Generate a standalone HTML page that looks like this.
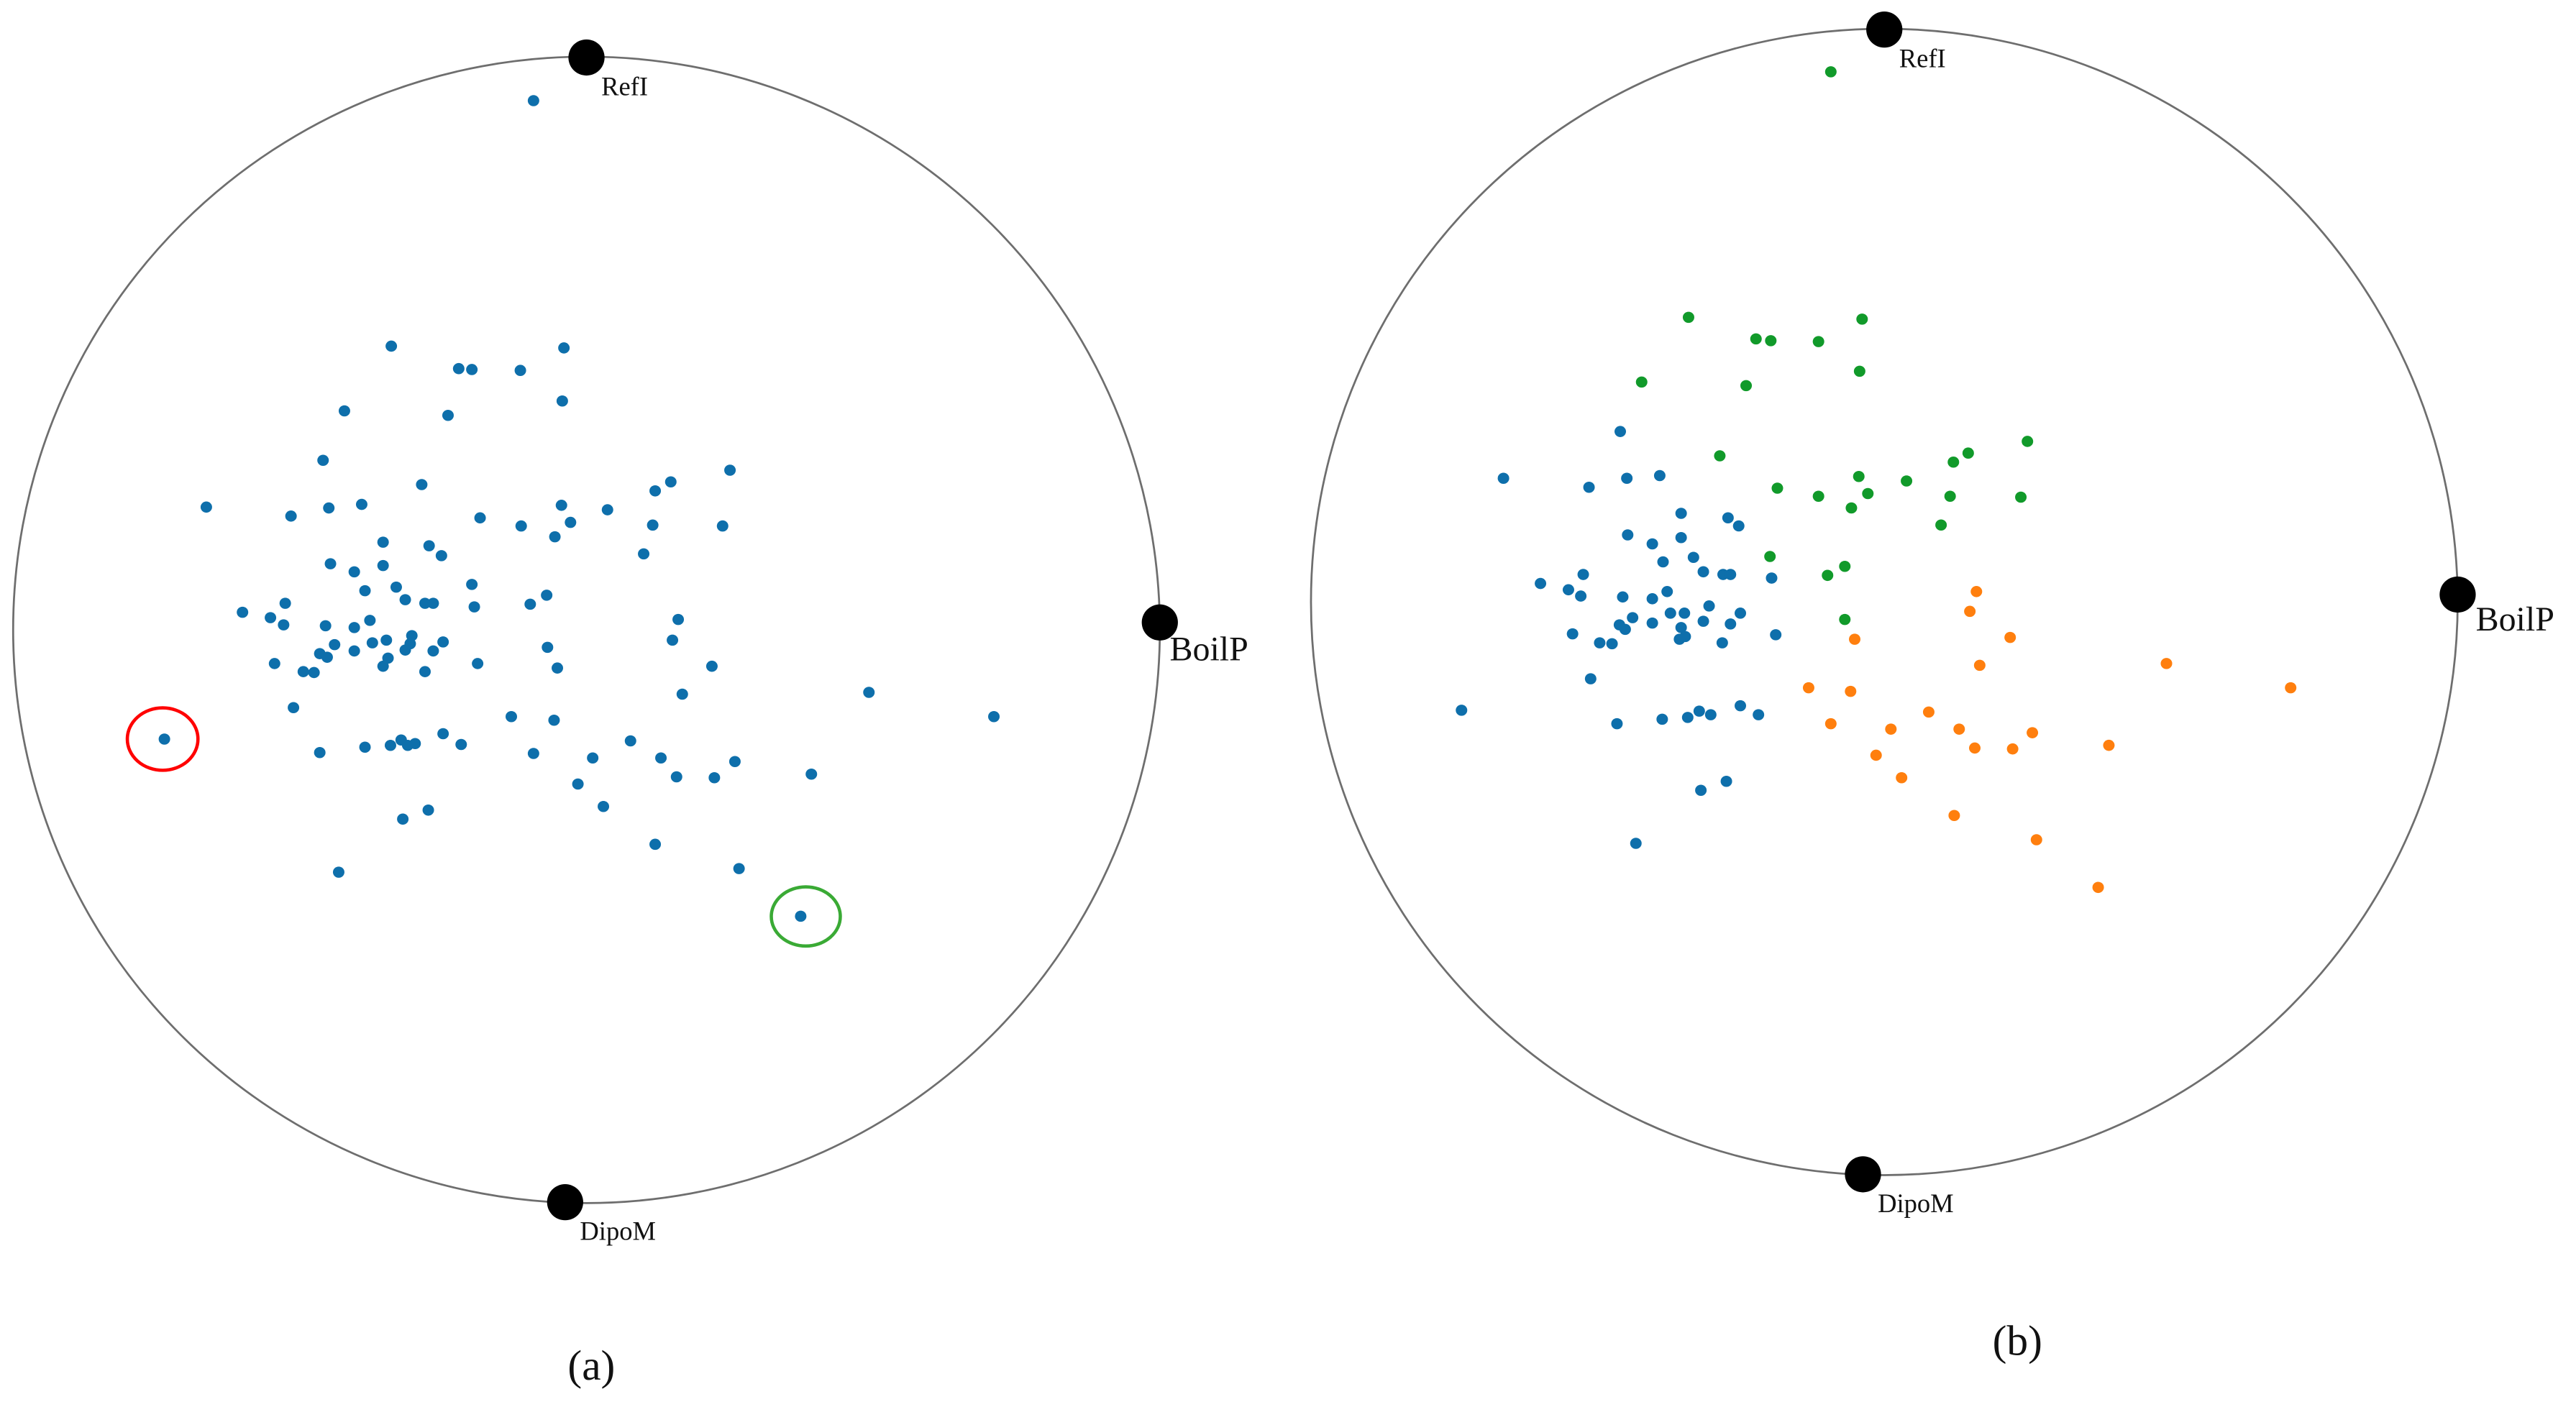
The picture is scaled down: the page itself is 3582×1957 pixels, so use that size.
<!DOCTYPE html>
<html><head><meta charset="utf-8"><style>
html,body{margin:0;padding:0;background:#fff;}
svg{display:block;}
text{font-family:"Liberation Serif",serif;fill:#111;}
</style></head><body>
<svg id="s" width="3582" height="1957" viewBox="0 0 3582 1957" xmlns="http://www.w3.org/2000/svg">
<g id="g" transform="scale(2.2844)">
<circle cx="357" cy="383.5" r="349" fill="none" stroke="#6e6e6e" stroke-width="1.2"/>
<circle cx="1147" cy="366.5" r="349" fill="none" stroke="#6e6e6e" stroke-width="1.2"/>
<g id="dots"></g>
<ellipse cx="99" cy="450" rx="21.5" ry="19" fill="none" stroke="#ff0000" stroke-width="2"/>
<ellipse cx="490.5" cy="558" rx="21" ry="18" fill="none" stroke="#3aaa35" stroke-width="2"/>
<circle cx="357" cy="35" r="11" fill="#000"/>
<circle cx="706" cy="379" r="11" fill="#000"/>
<circle cx="344" cy="732" r="11" fill="#000"/>
<circle cx="1147" cy="18" r="11" fill="#000"/>
<circle cx="1496" cy="362" r="11" fill="#000"/>
<circle cx="1134" cy="715" r="11" fill="#000"/>
<text x="366" y="58" font-size="16">RefI</text>
<text x="712" y="402" font-size="21">BoilP</text>
<text x="353" y="755" font-size="16">DipoM</text>
<text x="360" y="840" font-size="26" text-anchor="middle">(a)</text>
<text x="1156" y="41" font-size="16">RefI</text>
<text x="1507" y="384" font-size="21">BoilP</text>
<text x="1143" y="738" font-size="16">DipoM</text>
<text x="1228" y="825" font-size="26" text-anchor="middle">(b)</text>
</g>
</svg>
<script>
var A=[650,113,477,386,687,388,559,411,575,412,634,413,685,447,420,458,546,463,394,513,514,540,252,565,355,575,401,566,441,562,585,577,635,586,684,563,695,582,676,598,740,568,798,547,817,537,889,524,795,585,880,586,784,617,467,604,523,608,538,619,403,628,432,637,467,630,445,658,483,654,575,651,578,676,494,668,518,672,528,672,646,673,666,663,348,672,296,682,330,688,346,696,397,697,432,699,451,691,408,718,390,728,399,732,432,725,454,716,471,713,502,708,494,724,467,742,473,733,500,717,528,725,540,715,335,739,370,748,383,749,518,748,582,739,667,721,679,744,826,690,819,713,867,742,831,773,1058,771,1210,798,358,788,623,798,675,802,390,838,445,832,476,830,489,824,497,830,506,828,540,817,562,829,650,839,768,825,722,844,805,844,895,848,824,865,870,866,988,862,704,873,735,898,491,912,522,902,798,940,900,967,413,971,201,823,975,1020];
var G=[662,82,489,355,700,357,571,379,589,381,647,382,697,415,432,427,559,431,527,509,901,493,811,516,829,506,597,545,647,554,696,532,707,551,687,567,754,537,807,554,893,555,796,586,588,621,679,632,658,642,679,691];
var O=[839,660,831,682,880,711,691,713,843,742,1070,740,1221,767,635,767,686,771,662,807,735,813,781,794,818,813,907,817,837,834,883,835,1000,831,717,842,748,867,812,909,912,936,987,989];
var B=[406,482,264,534,368,544,414,534,454,531,480,573,537,578,550,587,415,597,445,607,480,600,458,627,495,622,507,638,531,641,540,641,590,645,309,651,343,658,361,641,358,665,409,666,445,668,463,660,467,684,484,684,514,676,421,689,405,697,412,702,445,695,480,700,485,710,478,713,507,693,540,696,552,684,530,717,595,708,348,707,381,717,396,718,370,757,213,792,402,807,457,802,488,800,502,793,516,797,552,787,574,797,504,881,535,871,425,940];
var d=document.getElementById('dots'),h='';
function add(a,right,c){for(var i=0;i<a.length;i+=2){var x,y;
 if(right){x=798+(a[i]-30)*0.5007;y=18+(a[i+1]-35)*0.5475;}
 else{x=8+(a[i]-17)*0.5004;y=35+(a[i+1]-65)*0.5475;}
 h+='<ellipse cx="'+x+'" cy="'+y+'" rx="3.5" ry="3.4" fill="'+c+'"/>';}}
add(A,0,'#0e6fab');add(B,1,'#0e6fab');add(G,1,'#119a2a');add(O,1,'#ff7f0e');
d.innerHTML=h;
</script>
</body></html>
